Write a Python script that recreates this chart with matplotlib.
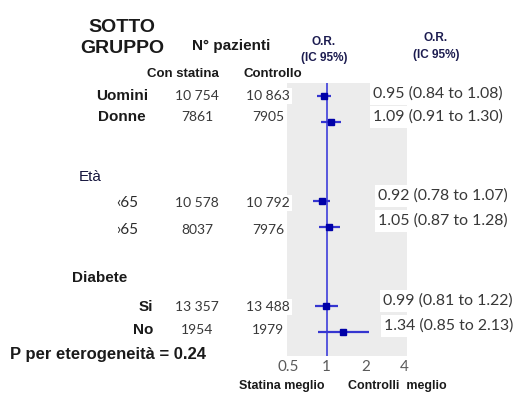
import matplotlib
matplotlib.use("Agg")
import matplotlib.pyplot as plt

# ---- data ----
subgroups = ['Uomini', 'Donne', '\u203965', '\u203a65', 'Si', 'No']
n_statina = ['10 754', '7861', '10 578', '8037', '13 357', '1954']
n_controllo = ['10 863', '7905', '10 792', '7976', '13 488', '1979']
odds = [0.95, 1.09, 0.92, 1.05, 0.99, 1.34]
ci_lo = [0.84, 0.91, 0.78, 0.87, 0.81, 0.85]
ci_hi = [1.08, 1.30, 1.07, 1.28, 1.22, 2.13]
rows = [0, 1, 4, 5, 8, 9]
xticks = [0.5, 1, 2, 4]
p_het = 0.24

# ---- layout (pixels, top-down) ----
W, H = 517, 394
label_y = [96, 117, 203, 230, 307, 330]
or_y = [94, 117, 196, 221, 301, 326]
or_x = [373, 373, 378, 378, 383, 384]

BOLD = 'Liberation Sans'
NUM = 'Lato'
dark = '#1a1a1a'
numc = '#383838'
white_box = dict(fc='white', ec='none', pad=1.5)

fig = plt.figure(figsize=(W / 100, H / 100), dpi=100)
fig.patch.set_facecolor('white')

# forest panel
ax = fig.add_axes([287 / W, 1 - 356 / H, 120 / W, 273 / H])
ax.set_facecolor('#ececec')
ax.set_xscale('log', base=2)
ax.set_xlim(0.491, 4.22)
ax.set_ylim(9.9, -0.5)
for s in ax.spines.values():
    s.set_visible(False)
ax.axvline(1, color='#4b4bdc', lw=1.3, zorder=2)
for r, o, lo, hi in zip(rows, odds, ci_lo, ci_hi):
    ax.plot([lo, hi], [r, r], color='#3535d0', lw=1.6, solid_capstyle='butt', zorder=3)
    ms = 5 if (hi - lo) > 1 else 3.8
    ax.plot(o, r, 's', color='#0000a8', ms=ms, zorder=4)
ax.set_yticks([])
ax.set_xticks(xticks)
ax.set_xticklabels(['0.5', '1', '2', '4'], fontfamily=NUM, fontsize=11, color='#5a5a5a')
ax.xaxis.set_minor_locator(matplotlib.ticker.NullLocator())
ax.tick_params(axis='x', length=0, pad=3)

# overlay for all the table text
lay = fig.add_axes([0, 0, 1, 1])
lay.set_xlim(0, W)
lay.set_ylim(H, 0)
lay.axis('off')
lay.patch.set_alpha(0)

kw = dict(ha='center', va='center', zorder=5)
lay.text(122, 27, 'SOTTO', fontfamily=BOLD, fontweight='bold', fontsize=14, color=dark, **kw)
lay.text(122, 48, 'GRUPPO', fontfamily=BOLD, fontweight='bold', fontsize=14, color=dark, **kw)
lay.text(231, 46, 'N\u00b0 pazienti', fontfamily=BOLD, fontweight='bold', fontsize=11, color=dark, **kw)
lay.text(183, 74, 'Con statina', fontfamily=BOLD, fontweight='bold', fontsize=9.5, color=dark, **kw)
lay.text(273, 74, 'Controllo', fontfamily=BOLD, fontweight='bold', fontsize=9.5, color=dark, **kw)
lay.text(324, 42, 'O.R.', fontfamily=BOLD, fontweight='bold', fontsize=8.5, color='#1c1c50', **kw)
lay.text(324, 58, '(IC 95%)', fontfamily=BOLD, fontweight='bold', fontsize=8.5, color='#1c1c50', **kw)
lay.text(436, 38, 'O.R.', fontfamily=BOLD, fontweight='bold', fontsize=8.5, color='#1c1c50', **kw)
lay.text(436, 55, '(IC 95%)', fontfamily=BOLD, fontweight='bold', fontsize=8.5, color='#1c1c50', **kw)

lay.text(79, 177, 'Et\u00e0', fontfamily=BOLD, fontsize=11, color='#14143c', ha='left', va='center', zorder=5)
lay.text(72, 278, 'Diabete', fontfamily=BOLD, fontweight='bold', fontsize=11, color=dark,
         ha='left', va='center', zorder=5)

for i, name in enumerate(subgroups):
    y = label_y[i]
    if i < 2:
        lay.text(122, y, name, fontfamily=BOLD, fontweight='bold', fontsize=11, color=dark, **kw)
    elif i < 4:
        lay.text(116, y, name, fontfamily=NUM, fontsize=11, color='#2a2a2a', ha='left', va='center',
                 zorder=5, bbox=white_box)
    else:
        lay.text(153, y, name, fontfamily=BOLD, fontweight='bold', fontsize=11, color=dark,
                 ha='right', va='center', zorder=5)
    lay.text(197, y, n_statina[i], fontfamily=NUM, fontsize=10, color=numc, bbox=white_box, **kw)
    lay.text(268, y, n_controllo[i], fontfamily=NUM, fontsize=10, color=numc, bbox=white_box, **kw)
    txt = '%.2f (%.2f to %.2f)' % (odds[i], ci_lo[i], ci_hi[i])
    lay.text(or_x[i], or_y[i], txt, fontfamily=NUM, fontsize=11.4, color=numc, ha='left',
             va='center', zorder=5, bbox=dict(fc='white', ec='none', pad=2.5))

lay.text(10, 354, 'P per eterogeneit\u00e0 = %.2f' % p_het, fontfamily=BOLD, fontweight='bold',
         fontsize=12, color=dark, ha='left', va='center', zorder=5)
lay.text(282, 386, 'Statina meglio', fontfamily=BOLD, fontweight='bold', fontsize=9, color=dark, **kw)
lay.text(397, 386, 'Controlli  meglio', fontfamily=BOLD, fontweight='bold', fontsize=9, color=dark, **kw)

fig.savefig('out.png', dpi=100, facecolor='white')
